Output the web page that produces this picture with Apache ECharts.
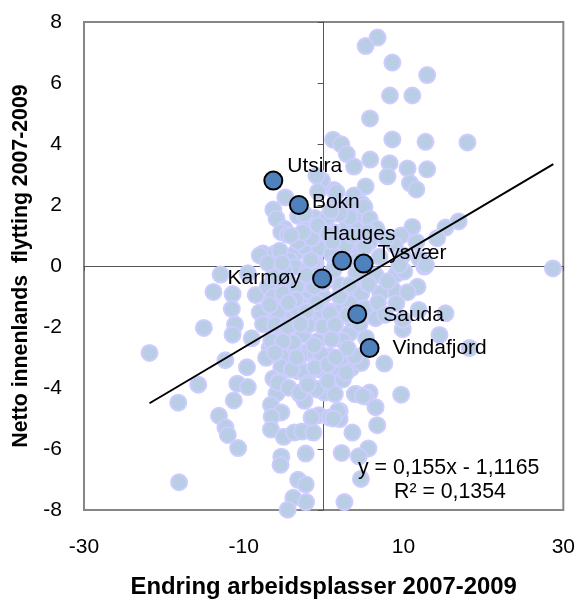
<!DOCTYPE html>
<html>
<head>
<meta charset="utf-8">
<script src="https://cdn.jsdelivr.net/npm/echarts@6/dist/echarts.min.js"></script>
<style>html,body{margin:0;padding:0;background:#fff}#main{width:578px;height:604px}</style>
</head>
<body>
<div id="main"></div>
<script>
// alle kommuner: endring arbeidsplasser, netto innenlands flytting
var allPoints = [
 [6.75,7.49],[5.25,7.21],[8.6,6.67],[12.96,6.26],[8.3,5.59],[11.1,5.59],[5.8,4.84],[8.6,4.15],[12.75,4.07],[18,4.05],
 [1.17,4.14],[2.2,3.99],[2.9,3.67],[3.8,3.26],[5.83,3.49],[8.25,3.37],[8,2.94],[10.5,3.2],[12.96,3.17],[10.8,2.72],
 [11.6,2.51],[5.25,2.61],[3.8,2.31],[4.8,2.04],[16.9,1.46],[15.25,1.26],[14.2,0.91],[11.1,1.28],[28.7,-0.08],
 [11.75,-0.68],[15.25,-1.55],[11.9,-1.44],[14.5,-2.26],[18.25,-2.69],[9.9,-2.07],[7.6,-3.2],[9.7,-4.22],[5.75,-4.15],
 [4.1,-4.2],[5.25,-4.28],[6.5,-4.63],[6.7,-5.22],[3.6,-5.46],[5.6,-5.98],[2.25,-6.13],[4.4,-6.24],[4.66,-6.98],[2.6,-7.74],
 [9.1,-0.27],[10.1,-0.18],[12.6,-0.02],[8.7,-0.79],[10.5,-0.86],[9.1,-1.22],[7.1,-0.9],[6.5,-1.71],[9.9,-1.76],
 [-12.9,-0.28],[-9.5,-0.24],[-13.8,-0.85],[-11.4,-0.92],[-11.5,-1.41],[-8.5,-0.95],[-11.1,-1.92],[-11.4,-2.25],[-15,-2.03],
 [-9,-2.37],[-21.8,-2.85],[-12.3,-3.09],[-9.6,-3.32],[-15.7,-3.89],[-18.2,-4.48],[-10.8,-3.86],[-9.5,-3.97],[-11.25,-4.41],
 [-13.1,-4.91],[-12.3,-5.29],[-12,-5.54],[-10.7,-5.97],[-18.1,-7.09],[-8,-1.52],[-6.5,-1.28],[-7.5,-1.91],[-5.9,-1.71],
 [-5.9,-2.25],[-6.75,-2.69],[-7.2,-3.01],[-4.9,-2.94],[-4,-2.58],[-2.7,-2.23],[-0.8,-2.47],[-2.25,-2.85],[-4.25,-3.39],
 [-5.3,-3.31],[-1.1,-3.37],[-3.2,-3.45],[-6.3,-3.69],[-5.6,-3.77],[-5.9,-4.18],[-3,-4.19],[-2.4,-4.42],[-0.8,-4.04],[0.1,-4.15],
 [-6.6,-4.55],[-5.3,-4.8],[-6.5,-4.94],[-6.6,-5.36],[-5,-5.6],[-3.7,-5.46],[-2.7,-5.43],[-1.3,-5.46],[-1.5,-4.97],[-0.6,-4.89],
 [-5.3,-6.25],[-5.4,-6.52],[-2.25,-6.15],[-3.2,-7.01],[-2.25,-7.16],[-3.8,-7.6],[-2.2,-7.74],[-4.5,-7.99],
 [2,-4.75],[2,-5.02],[0.75,-4.97],[1.4,-4.2],[3.9,-4.2],
 [-4.8,2.25],[-6.3,1.85],[-5.9,1.55],[-4.9,1.22],[-5.3,1.11],[-4.5,1.03],[-2.2,1.22],[-1.1,1.57],[-3.2,1.64],[1.3,2.49],
 [-0.2,2.8],[-0.9,2.96],[-0.7,2.44],[1.4,2.04],[3.25,1.98],[0.5,1.6],[2.6,1.71],[4.1,1.64],[5.1,1.94],[-7.6,0.41],
 [-6.1,0.41],[-3.6,0.41],[-1.3,0.57],[-2.4,0.63],[0.3,0.79],[2.8,1.22],[-0.7,0.95],[1.4,1.11],[4.7,1.22],[4.3,0.79],[2,0.73],
 [-6.3,-0.03],[-8,0.35],[-4.25,0.19],[-3.6,-0.03],[-2,-0.14],[-5.7,-0.95],[-2.8,-1],[-6.75,-1.22],[-7.6,-1.9],[-4,-1.71],
 [-5.1,-1.93],[-2.6,-2.25],[1,-1.49],[2.2,-1.44],[1.6,-1.76],[-0.5,-1.66],[-1.5,-1.87],[0.75,-2.14],[3.25,-2.2],[2.4,-2.44],
 [-3.8,-2.52],[-0.9,-2.85],[0.75,-2.96],[-2.6,-3.45],[-0.5,-3.39],[1.6,-3.5],[3.5,-3.34],[4.7,-3.18],[2,-0.62],[3.7,-0.73],
 [4.1,-0.24],[0.3,-0.46],[-0.1,-1],[-1.75,-0.84],[-4.25,-0.57],[-2.4,-0.57],[-5.5,-0.46],[-7,-0.68],[4.7,-0.9],[5.1,-1.38],
 [3.25,-1.22],[5.3,-2.36],[3.6,-1.77],[5.75,1.55],[6.6,1.22],[9.7,1],[11.6,0.79],[8.9,0.68],[7.8,0.9],[9.9,0.35],[12,0.24],
 [5.75,0.8],[3,1.33],[1.6,2.42],[3.6,0.57],[-0.5,0.57],[1,0.4],[9.5,0.03],[12.8,0.03],[7,0.3],[6.5,-0.3],[1.5,0.1],[-1,0.1],
 [-6.3,-1],[-5.1,-0.9],[-3.2,-1.44],[-5.7,-1.49],[-6.75,-1.28],[-6.1,-1.93],[-4.5,-1.98],[-1.96,-1.93],[-0.1,-1.98],[0.75,-1.55],
 [1.4,-1.93],[-6.55,-2.47],[-5.1,-2.47],[-1.96,-2.8],[-0.3,-2.9],[-6.1,-2.85],[-3,-2.96],[-4,-3.39],[-1.1,-3.34],[0.55,-3.23],
 [2,-3.07],[3.9,-2.96],[-0.9,-1.22],[-2.2,-1.49],[2,-1],[3.25,-0.62],[-0.1,-0.57],[-1.3,0.08],[1.2,-0.14],[-4.9,-0.14],[-6.3,-0.35],
 [-3.4,-0.68],[-1.2,-0.68],[-0.1,1.11],[-3.2,0.79],[-5.5,0.5],[-1.5,0.9],[4,1.22],[5.5,1.11],[3.25,1.6],[2,1.71],[-0.7,1.33],
 [-2.6,1.11],[0.5,1.05],[2.8,0.68],[5.1,0.62],[-5.7,-3.83],[-4.4,-3.99],[-1.96,-3.83],[-0.9,-4.04],[1.8,-4.75],[1.2,-5],
 [-1.5,-4.97],[0.55,-3.77],[2.4,-3.72],[4.9,-4.26],[-3,-4.15],[3,-2.7],[1,-2.4],[-2.9,-1.9],[-1,-0.3],[2.5,0.2],[4.2,0.2],
 [-3.5,-1.1],[-2.2,-0.3],[3,-1.6],[4.5,-1.9],[5.6,-0.6],[6.8,-1.2],[8,-0.5],[7.7,-1.6],[-2.4,1.7],[-1.6,0.2],[0.9,1.8],[3.6,1],
 [1.1,0.8],[-4.1,1],[-7,0.1],[-5.2,0.1],[-4.4,-1.2],[-1.2,-2.6],[-3.4,-3],[1.5,-3],[2.8,-3.5],[-2,-3.9]
];
var kommuner = ['Utsira','Bokn','Hauges','Tysvær','Karmøy','Sauda','Vindafjord'];
var kommuneX = [-6.3,-3.1,2.3,5,-0.2,4.2,5.75];
var kommuneY = [2.8,2,0.17,0.08,-0.41,-1.58,-2.69];
var trendLine = [[-21.8,-4.5],[28.75,3.34]];
var xTicks = [-30,-10,10,30];
var yTicks = [-8,-6,-4,-2,0,2,4,6,8];

// hvor navnene staar i forhold til punktet
var labelPlace = {
  'Utsira':     {position:'right', offset:[-1,-14]},
  'Bokn':       {position:'right', offset:[-2,-3]},
  'Hauges':     {position:'right', offset:[-34,-27]},
  'Tysvær':     {position:'right', offset:[-1,-10]},
  'Karmøy':     {position:'left',  offset:[-6,0]},
  'Sauda':      {position:'right', offset:[11,1]},
  'Vindafjord': {position:'right', offset:[8,0]}
};
var font = 'Liberation Sans';
var myChart = echarts.init(document.getElementById('main'));
option = {
  backgroundColor: '#fff',
  animation: false,
  grid: {left:84, right:14, top:22, bottom:91, show:true, borderColor:'#868686', borderWidth:2, backgroundColor:'#fff'},
  xAxis: [{
    type:'value', min:-30, max:30, position:'bottom',
    axisLine:{onZero:false, show:false}, axisTick:{show:false}, splitLine:{show:false},
    axisLabel:{customValues:xTicks, margin:27, fontFamily:font, fontSize:21, color:'#000', showMinLabel:true, showMaxLabel:true},
    name:'Endring arbeidsplasser 2007-2009', nameLocation:'middle', nameGap:65,
    nameTextStyle:{fontFamily:font, fontSize:23.9, fontWeight:'bold', color:'#000'}
  },{
    type:'value', min:-30, max:30, position:'bottom',
    axisLine:{onZero:true, onZeroAxisIndex:0, lineStyle:{color:'#555', width:1}},
    axisTick:{customValues:xTicks, length:5, lineStyle:{color:'#555'}},
    axisLabel:{show:false}, splitLine:{show:false}
  }],
  yAxis: [{
    type:'value', min:-8, max:8, interval:2, position:'left',
    axisLine:{onZero:false, show:false}, axisTick:{show:false}, splitLine:{show:false},
    axisLabel:{margin:22, fontFamily:font, fontSize:21, color:'#000', customValues:yTicks},
    name:'Netto innenlands  flytting 2007-2009', nameLocation:'middle', nameGap:52,
    nameTextStyle:{fontFamily:font, fontSize:21.3, fontWeight:'bold', color:'#000'}
  },{
    type:'value', min:-8, max:8, interval:2, position:'left',
    axisLine:{onZero:true, onZeroAxisIndex:0, lineStyle:{color:'#555', width:1}},
    axisTick:{length:6, lineStyle:{color:'#555'}},
    axisLabel:{show:false}, splitLine:{show:false}
  }],
  graphic: [{
    type:'text', left:358, top:458, z:50,
    style:{text:'y = 0,155x - 1,1165', font:'21.3px "Liberation Sans"', fill:'#000'}
  },{
    type:'text', left:394, top:482, z:50,
    style:{text:'R² = 0,1354', font:'21.3px "Liberation Sans"', fill:'#000'}
  }],
  series: [{
    type:'scatter', xAxisIndex:0, yAxisIndex:0, data:allPoints, symbolSize:16, clip:false, z:3,
    itemStyle:{color:'#B9CDE5', borderColor:'#CCCCFF', borderWidth:2, opacity:1}
  },{
    type:'line', xAxisIndex:0, yAxisIndex:0, data:trendLine, showSymbol:false, symbol:'none', z:4,
    lineStyle:{color:'#000', width:2}
  },{
    type:'scatter', xAxisIndex:0, yAxisIndex:0, symbolSize:18, z:5,
    data: kommuner.map(function(n,i){
      return {
        name:n, value:[kommuneX[i],kommuneY[i]],
        label:{show:true, formatter:'{b}', position:labelPlace[n].position, offset:labelPlace[n].offset,
               fontFamily:font, fontSize:21, color:'#000'}
      };
    }),
    itemStyle:{color:'#4F81BD', borderColor:'#000', borderWidth:2, opacity:1}
  }]
};
myChart.setOption(option);
</script>
</body>
</html>
